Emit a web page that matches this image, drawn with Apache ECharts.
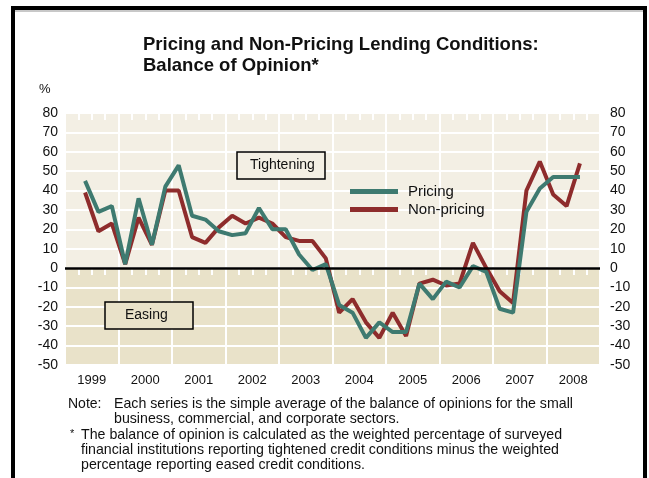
<!DOCTYPE html>
<html>
<head>
<meta charset="utf-8">
<script src="https://cdn.jsdelivr.net/npm/echarts@6/dist/echarts.min.js"></script>
<style>
  html, body { margin: 0; padding: 0; background: #fff; }
  #main { width: 649px; height: 478px; }
</style>
</head>
<body>
<div id="main"></div>
<script>
// quarterly balance of opinion, 1999 Q2 .. 2008 Q3
var years = ['1999', '2000', '2001', '2002', '2003', '2004', '2005', '2006', '2007', '2008'];
var firstYear = 1999, firstQuarter = 2; // first observation is Q2 1999
var pricing = [45, 29, 32, 2, 36, 12, 42, 53, 27, 25, 19, 17, 18, 31, 20, 20, 7, -1, 2,
  -19, -23, -36, -28, -33, -33, -8, -16, -7, -10, 1, -2, -21, -23, 29, 41, 47, 47, 47];
var nonPricing = [39, 19, 23, 2, 26, 12, 40, 40, 16, 13, 21, 27, 23, 26, 23, 16, 14, 14, 5,
  -23, -16, -28, -36, -23, -35, -8, -6, -9, -8, 13, 0, -12, -18, 40, 55, 38, 32, 54];
var yTicks = [-50, -40, -30, -20, -10, 0, 10, 20, 30, 40, 50, 60, 70, 80];

var light = '#f3efe4', dark = '#e9e2c9';
var teal = '#3e7a70', red = '#8e2c2c';

function toPairs(vals) {
  // x = middle of each quarter, in years
  return vals.map(function (v, i) {
    var q = firstQuarter - 1 + i;
    return [firstYear + (q + 0.5) / 4, v];
  });
}

// one colour per 10-point band, from -50 upward
var bands = yTicks.slice(1).map(function (t) { return t <= 0 ? dark : light; });

var chart = echarts.init(document.getElementById('main'));
var txt = '#111';
var font = 'Liberation Sans, Arial, sans-serif';

var option = {
  backgroundColor: '#fff',
  animation: false,
  grid: { left: 65, right: 49, top: 113, bottom: 113 },
  legend: {
    data: ['Pricing', 'Non-pricing'],
    orient: 'vertical',
    left: 350, top: 184, padding: 0,
    itemWidth: 48, itemHeight: 5, itemGap: 3,
    icon: 'rect',
    textStyle: { fontSize: 15, color: txt, fontFamily: font, padding: [0, 0, 0, 5] }
  },
  xAxis: [{
    type: 'category',
    data: years,
    boundaryGap: true,
    axisLine: { show: false },
    axisTick: { show: false },
    axisLabel: { fontSize: 13, color: txt, fontFamily: font, margin: 9 },
    splitLine: { show: true, lineStyle: { color: '#fff', width: 2 } }
  }, {
    type: 'value', min: 1999, max: 2009, interval: 0.25,
    axisLine: { show: false },
    axisLabel: { show: false },
    splitLine: { show: false },
    axisTick: { show: true, inside: true, length: 7, lineStyle: { color: '#fff', width: 2 } }
  }, {
    type: 'value', min: 1999, max: 2009, interval: 0.25, position: 'top',
    axisLine: { show: false },
    axisLabel: { show: false },
    splitLine: { show: false },
    axisTick: { show: true, inside: true, length: 7, lineStyle: { color: '#fff', width: 2 } }
  }],
  yAxis: [{
    type: 'value', min: -50, max: 80, interval: 10,
    axisLine: { show: false },
    axisTick: { show: false },
    axisLabel: { fontSize: 14, color: txt, fontFamily: font, margin: 7 },
    splitLine: { show: true, lineStyle: { color: '#fff', width: 2 } },
    splitArea: { show: true, areaStyle: { color: bands } }
  }, {
    type: 'value', min: -50, max: 80, interval: 10, position: 'right',
    axisLine: { show: false },
    axisTick: { show: false },
    axisLabel: { fontSize: 14, color: txt, fontFamily: font, margin: 10 },
    splitLine: { show: false }
  }],
  series: [{
    name: 'zero',
    type: 'line',
    xAxisIndex: 1,
    data: [],
    silent: true,
    z: 2,
    markLine: {
      silent: true,
      symbol: 'none',
      label: { show: false },
      lineStyle: { color: '#000', width: 2.5, type: 'solid' },
      data: [{ yAxis: 0 }]
    }
  }, {
    name: 'Non-pricing',
    type: 'line',
    xAxisIndex: 1,
    data: toPairs(nonPricing),
    showSymbol: false,
    color: red,
    lineStyle: { width: 4, color: red },
    z: 3
  }, {
    name: 'Pricing',
    type: 'line',
    xAxisIndex: 1,
    data: toPairs(pricing),
    showSymbol: false,
    color: teal,
    lineStyle: { width: 4, color: teal },
    z: 4
  }],
  graphic: [
    // outer frame
    { type: 'rect', shape: { x: 11, y: 6, width: 4, height: 480 }, style: { fill: '#000' }, z: 100 },
    { type: 'rect', shape: { x: 643, y: 6, width: 4, height: 480 }, style: { fill: '#000' }, z: 100 },
    { type: 'rect', shape: { x: 11, y: 6, width: 636, height: 4 }, style: { fill: '#000' }, z: 100 },
    { type: 'rect', shape: { x: 15, y: 10, width: 628, height: 2 }, style: { fill: '#c8c8c8' }, z: 100 },
    // title
    { type: 'text', left: 143, top: 35, style: { text: 'Pricing and Non-Pricing Lending Conditions:', font: 'bold 18.5px ' + font, fill: txt } },
    { type: 'text', left: 143, top: 56, style: { text: 'Balance of Opinion*', font: 'bold 18.5px ' + font, fill: txt } },
    { type: 'text', left: 39, top: 83, style: { text: '%', font: '13px ' + font, fill: txt } },
    // annotation boxes
    { type: 'rect', shape: { x: 237, y: 152, width: 88, height: 27 }, style: { fill: light, stroke: '#000', lineWidth: 1.5 }, z: 10 },
    { type: 'text', left: 250, top: 158, style: { text: 'Tightening', font: '14px ' + font, fill: txt }, z: 11 },
    { type: 'rect', shape: { x: 105, y: 302, width: 88, height: 27 }, style: { fill: dark, stroke: '#000', lineWidth: 1.5 }, z: 10 },
    { type: 'text', left: 125, top: 308, style: { text: 'Easing', font: '14px ' + font, fill: txt }, z: 11 },
    // notes
    { type: 'text', left: 68, top: 397, style: { text: 'Note:', font: '14px ' + font, fill: txt } },
    { type: 'text', left: 114, top: 397, style: { text: 'Each series is the simple average of the balance of opinions for the small\nbusiness, commercial, and corporate sectors.', font: '14.2px ' + font, fill: txt, lineHeight: 15 } },
    { type: 'text', left: 70, top: 428, style: { text: '*', font: '11px ' + font, fill: txt } },
    { type: 'text', left: 81, top: 428, style: { text: 'The balance of opinion is calculated as the weighted percentage of surveyed\nfinancial institutions reporting tightened credit conditions minus the weighted\npercentage reporting eased credit conditions.', font: '14.2px ' + font, fill: txt, lineHeight: 15 } }
  ]
};
chart.setOption(option);
</script>
</body>
</html>
